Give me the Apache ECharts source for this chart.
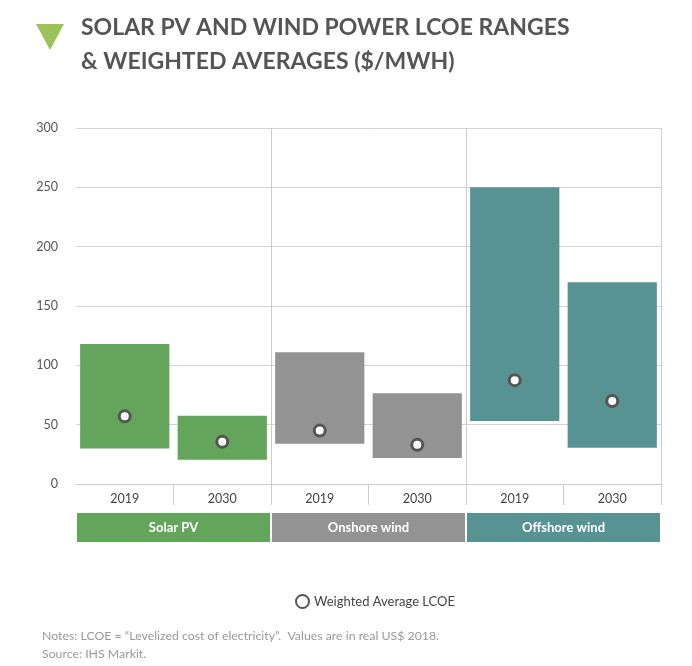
<!DOCTYPE html>
<html>
<head>
<meta charset="utf-8">
<script src="https://cdn.jsdelivr.net/npm/echarts@6/dist/echarts.min.js"></script>
<style>html,body{margin:0;padding:0;background:#fff}#c{width:692px;height:666px}</style>
</head>
<body>
<div id="c"></div>
<script>
const years = ['2019', '2030', '2019', '2030', '2019', '2030'];
const groups = ['Solar PV', 'Onshore wind', 'Offshore wind'];
const rangeLow = [30, 20.5, 34, 22, 53, 30.5];
const rangeHigh = [118, 57.5, 111, 76.5, 250, 170];
const weightedAvg = [57, 35.5, 45, 33, 87.5, 70];
const yTicks = [0, 50, 100, 150, 200, 250, 300];

const groupColors = ['#62a55b', '#939393', '#579393'];
const barColors = [0, 0, 1, 1, 2, 2].map(g => groupColors[g]);
const FONT = 'Lato';

const chart = echarts.init(document.getElementById('c'));
const rich = {};
groupColors.forEach((c, i) => {
  rich['g' + i] = {
    backgroundColor: c, width: 193, height: 29, lineHeight: 29, align: 'center',
    color: '#fff', fontWeight: 'bold', fontSize: 13, fontFamily: FONT
  };
});

chart.setOption({
  animation: false,
  textStyle: { fontFamily: FONT },
  title: [{
    text: 'SOLAR PV AND WIND POWER LCOE RANGES\n& WEIGHTED AVERAGES ($/MWH)',
    left: 81, top: 11, padding: 0,
    textStyle: { fontFamily: FONT, fontWeight: 'bold', fontSize: 23, color: '#555', lineHeight: 34 }
  }, {
    text: 'Notes: LCOE = “Levelized cost of electricity”.  Values are in real US$ 2018.\nSource: IHS Markit.',
    left: 42, top: 627, padding: 0,
    textStyle: { fontFamily: FONT, fontWeight: 'normal', fontSize: 12.3, color: '#999', lineHeight: 18 }
  }],
  graphic: [{
    type: 'polygon',
    shape: { points: [[36, 24], [64, 24], [50, 50]] },
    style: { fill: '#9bc35a' }
  }],
  legend: {
    data: ['Weighted Average LCOE'],
    left: 290, top: 589,
    itemWidth: 13, itemHeight: 13, itemGap: 6,
    textStyle: { fontFamily: FONT, fontSize: 13, color: '#444' }
  },
  grid: { left: 76, right: 31, top: 128, bottom: 182 },
  xAxis: [{
    type: 'category',
    data: years,
    axisLine: { show: true, lineStyle: { color: '#ccc' } },
    axisTick: { show: true, length: 21, lineStyle: { color: '#ccc' }, interval: (i) => i > 0 && i < 6 },
    axisLabel: { color: '#444', fontSize: 12.5, margin: 8, fontFamily: FONT },
    splitLine: { show: true, lineStyle: { color: '#ccc' }, interval: (i) => i === 2 || i === 4 }
  }, {
    type: 'category',
    data: groups,
    position: 'bottom',
    axisLine: { show: false },
    axisTick: { show: false },
    axisLabel: { margin: 29, formatter: (v, i) => '{g' + i + '|' + v + '}', rich: rich }
  }],
  yAxis: {
    type: 'value', min: 0, max: 300, interval: 50,
    axisLine: { show: false }, axisTick: { show: false },
    axisLabel: { color: '#555', fontSize: 12.5, margin: 18, fontFamily: FONT,
      formatter: v => yTicks.includes(v) ? String(v) : '' },
    splitLine: { lineStyle: { color: '#d3d3d3' } }
  },
  series: [{
    type: 'bar', stack: 'r', silent: true,
    data: rangeLow,
    itemStyle: { color: 'transparent' },
    barCategoryGap: '8.5%'
  }, {
    type: 'bar', stack: 'r', silent: true,
    data: rangeHigh.map((h, i) => ({ value: h - rangeLow[i], itemStyle: { color: barColors[i] } })),
    barCategoryGap: '8.5%'
  }, {
    name: 'Weighted Average LCOE',
    type: 'scatter', z: 5,
    data: weightedAvg,
    symbol: 'circle', symbolSize: 11,
    itemStyle: { color: '#fff', borderColor: '#555', borderWidth: 3, opacity: 1 }
  }]
});
</script>
</body>
</html>
